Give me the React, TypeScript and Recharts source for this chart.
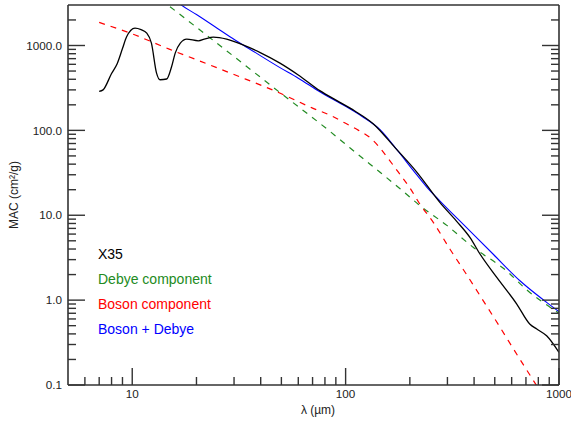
import { ComposedChart, Line, XAxis, YAxis } from 'recharts';

const FONT = '"Liberation Sans", Arial, Helvetica, sans-serif';
const AXIS = '#333';
const GREEN = '#228B22';

// X35 measured spectrum
const obsWave = [7.0, 7.3, 8.0, 8.5, 9.0, 9.4, 10.3, 11.0, 11.7, 12.3, 13.0, 13.5, 14.5, 15.3, 15.9, 16.8, 18.0, 20.4, 22.0, 24.0, 27.7, 32.6, 40, 49, 60, 76, 91, 110, 135, 170, 215, 277, 330, 383, 427, 511, 634, 731, 787, 875, 1000];
const obsMac = [288, 300, 468, 610, 920, 1260, 1604, 1540, 1400, 1067, 473, 395, 403, 566, 813, 1067, 1189, 1136, 1200, 1255, 1189, 1030, 820, 625, 450, 292, 224, 170, 119, 63, 32.5, 14.1, 8.6, 5.45, 3.47, 1.85, 0.9, 0.52, 0.456, 0.38, 0.242];

// model components
const debyeWave = [10, 15, 20, 30, 50, 85, 105, 180, 223, 298, 396, 569, 706, 875, 1000];
const debyeMac = [6400, 2880, 1640, 740, 271, 96, 62, 20.5, 13, 7.6, 4.2, 2.2, 1.32, 0.88, 0.7];

const bosonWave = [7, 10, 15, 20, 30, 50, 70, 85, 100, 115, 131, 145, 161, 177, 200, 223, 258, 308, 369, 442, 529, 634, 755, 850];
const bosonMac = [1870, 1370, 900, 680, 455, 270, 183, 150, 121, 100, 81, 62, 44, 32, 21, 13.5, 8.2, 4.0, 2.0, 0.98, 0.48, 0.23, 0.115, 0.072];

const sumWave = [15, 17, 20, 25, 28.7, 35, 49, 60, 76, 100, 120, 145, 175, 207, 240, 277, 369, 492, 656, 875, 1000];
const sumMac = [3900, 2990, 2320, 1600, 1270, 930, 552, 412, 283, 192, 145, 102, 58, 34, 21.5, 14.7, 7.15, 3.47, 1.69, 0.94, 0.73];

const xTicks = [6, 7, 8, 9, 10, 20, 30, 40, 50, 60, 70, 80, 90, 100, 200, 300, 400, 500, 600, 700, 800, 900, 1000];
const yTicks = [0.1, 0.2, 0.3, 0.4, 0.5, 0.6, 0.7, 0.8, 0.9, 1, 2, 3, 4, 5, 6, 7, 8, 9, 10, 20, 30, 40, 50, 60, 70, 80, 90, 100, 200, 300, 400, 500, 600, 700, 800, 900, 1000, 2000];
const xLabels: Record<number, string> = { 10: '10', 100: '100', 1000: '1000' };
const yLabels: Record<number, string> = { 0.1: '0.1', 1: '1.0', 10: '10.0', 100: '100.0', 1000: '1000.0' };

const legendItems = [
  { text: 'X35', color: '#000' },
  { text: 'Debye component', color: GREEN },
  { text: 'Boson component', color: '#ff0000' },
  { text: 'Boson + Debye', color: '#0000ff' },
];

const toPoints = (w: number[], v: number[]) => w.map((x, i) => ({ x, y: v[i] }));

const isMajor = (v: number) => Math.abs(Math.log10(v) - Math.round(Math.log10(v))) < 1e-6;

const MAJOR = 17;
const MINOR = 8;

// ticks point into the plot, like the IDL original
const makeTick = (side: 'left' | 'right' | 'bottom' | 'top') => (props: any) => {
  const { x, y, payload } = props;
  const len = isMajor(payload.value) ? MAJOR : MINOR;
  let d = `M${x},${y}`;
  if (side === 'left') d += `H${x + len}`;
  if (side === 'right') d += `H${x - len}`;
  if (side === 'bottom') d += `V${y - len}`;
  if (side === 'top') d += `V${y + len}`;
  const label = side === 'left' ? yLabels[payload.value] : side === 'bottom' ? xLabels[payload.value] : undefined;
  return (
    <g>
      <path d={d} stroke={AXIS} strokeWidth={1.4} fill="none" />
      {label && side === 'left' && (
        <text x={x - 6} y={y} dy="0.36em" textAnchor="end" fontSize={11.7} fontFamily={FONT} fill="#222">
          {label}
        </text>
      )}
      {label && side === 'bottom' && (
        <text x={x} y={y + 13} textAnchor="middle" fontSize={11.7} fontFamily={FONT} fill="#222">
          {label}
        </text>
      )}
    </g>
  );
};

export default function App() {
  const axisLine = { stroke: AXIS, strokeWidth: 1.6 };
  return (
    <div style={{ position: 'absolute', left: 0, top: 0, width: 571, height: 421, background: '#fff' }}>
      <ComposedChart width={571} height={421} margin={{ top: 0, right: 0, bottom: 0, left: 0 }}>
        <XAxis
          xAxisId="b" dataKey="x" type="number" scale="log" domain={[5, 1000]} allowDataOverflow
          ticks={xTicks} interval={0} height={36} tickSize={0} tickMargin={0} tickLine={false}
          axisLine={axisLine} tick={makeTick('bottom')}
        />
        <XAxis
          xAxisId="t" orientation="top" type="number" scale="log" domain={[5, 1000]} allowDataOverflow
          ticks={xTicks} interval={0} height={5} tickSize={0} tickMargin={0} tickLine={false}
          axisLine={axisLine} tick={makeTick('top')}
        />
        <YAxis
          yAxisId="l" dataKey="y" type="number" scale="log" domain={[0.1, 3000]} allowDataOverflow
          ticks={yTicks} interval={0} width={68} tickSize={0} tickMargin={0} tickLine={false}
          axisLine={axisLine} tick={makeTick('left')}
        />
        <YAxis
          yAxisId="r" orientation="right" type="number" scale="log" domain={[0.1, 3000]} allowDataOverflow
          ticks={yTicks} interval={0} width={12} tickSize={0} tickMargin={0} tickLine={false}
          axisLine={axisLine} tick={makeTick('right')}
        />
        <Line
          xAxisId="b" yAxisId="l" data={toPoints(debyeWave, debyeMac)} dataKey="y" type="monotone"
          stroke={GREEN} strokeWidth={1.2} strokeDasharray="6 6" dot={false} isAnimationActive={false}
        />
        <Line
          xAxisId="b" yAxisId="l" data={toPoints(bosonWave, bosonMac)} dataKey="y" type="monotone"
          stroke="#ff0000" strokeWidth={1.2} strokeDasharray="6 6" dot={false} isAnimationActive={false}
        />
        <Line
          xAxisId="b" yAxisId="l" data={toPoints(sumWave, sumMac)} dataKey="y" type="monotone"
          stroke="#0000ff" strokeWidth={1.1} dot={false} isAnimationActive={false}
        />
        <Line
          xAxisId="b" yAxisId="l" data={toPoints(obsWave, obsMac)} dataKey="y" type="monotone"
          stroke="#000" strokeWidth={1.3} dot={false} isAnimationActive={false}
        />
      </ComposedChart>
      <svg width={571} height={421} style={{ position: 'absolute', left: 0, top: 0, pointerEvents: 'none' }}>
        <text
          x={18} y={195} transform="rotate(-90 18 195)" textAnchor="middle"
          fontSize={12} fontFamily={FONT} fill="#222"
        >
          MAC (cm²/g)
        </text>
        <text x={318} y={414} textAnchor="middle" fontSize={12} fontFamily={FONT} fill="#222">
          λ (µm)
        </text>
        {legendItems.map((item, i) => (
          <text key={item.text} x={98} y={259 + i * 25} fontSize={14} fontFamily={FONT} fill={item.color}>
            {item.text}
          </text>
        ))}
      </svg>
    </div>
  );
}
